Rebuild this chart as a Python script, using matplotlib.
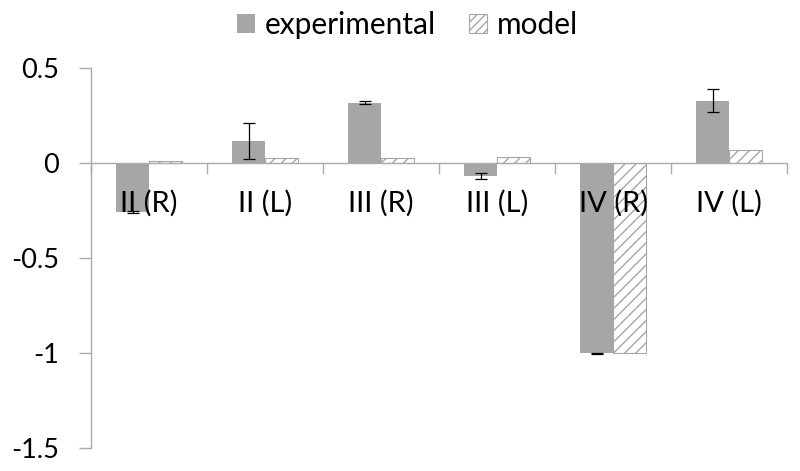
import matplotlib
matplotlib.use("Agg")
import matplotlib.pyplot as plt
import numpy as np
from matplotlib.patches import Patch

plt.rcParams['font.family'] = ['Lato', 'DejaVu Sans']
plt.rcParams['hatch.linewidth'] = 1.0

categories = ["II (R)", "II (L)", "III (R)", "III (L)", "IV (R)", "IV (L)"]
experimental = [-0.26, 0.115, 0.317, -0.069, -1.0, 0.327]
experimental_err = [0.005, 0.095, 0.01, 0.017, 0.003, 0.062]
model = [0.01, 0.028, 0.028, 0.033, -1.0, 0.07]
y_ticks = [0.5, 0, -0.5, -1, -1.5]
y_tick_labels = ["0.5", "0", "-0.5", "-1", "-1.5"]

gray = "#A6A6A6"
axis_gray = "#ABABAB"

fig = plt.figure(figsize=(8, 4.71), dpi=100)
ax = fig.add_axes([0.1138, 0.0482, 0.984 - 0.1138, 0.8081])

x = np.arange(len(categories))
w = 0.285
ax.bar(x - w / 2, experimental, w, color=gray, edgecolor="none", zorder=1)
ax.errorbar(x - w / 2, experimental, yerr=experimental_err, fmt="none",
            ecolor="black", elinewidth=0.9, capsize=4, capthick=0.9, zorder=3)
ax.bar(x + w / 2, model, w, color="white", edgecolor=gray, hatch="///",
       linewidth=0.8, zorder=1)

ax.set_xlim(-0.5, len(categories) - 0.5)
ax.set_ylim(-1.5, 0.5)

for s in ["top", "right", "bottom"]:
    ax.spines[s].set_visible(False)
ax.spines["left"].set_color(axis_gray)
ax.spines["left"].set_linewidth(1.0)
ax.axhline(0, color=axis_gray, linewidth=1.0, zorder=2)

# category boundary ticks on the zero line
for b in np.arange(len(categories) + 1) - 0.5:
    ax.plot([b, b], [0, -0.055], color=axis_gray, linewidth=1.0, zorder=2,
            clip_on=False)

ax.set_yticks(y_ticks)
ax.set_yticklabels(y_tick_labels, fontsize=19.5)
ax.tick_params(axis="y", length=9, width=1.0, color=axis_gray, pad=14)

ax.set_xticks(x)
ax.set_xticklabels([])
for xi, lab in zip(x, categories):
    ax.text(xi, -0.14, lab, ha="center", va="top", fontsize=21, zorder=4)
ax.tick_params(axis="x", length=0)

handles = [Patch(facecolor=gray, edgecolor="none"),
           Patch(facecolor="white", edgecolor=gray, hatch="////", linewidth=0.8)]
fig.legend(handles, ["experimental", "model"], loc="center",
           bbox_to_anchor=(0.509, 0.947), ncol=2, frameon=False, fontsize=21.5,
           handlelength=0.6, handleheight=0.6, handletextpad=0.33,
           columnspacing=1.1, borderpad=0.2)

fig.savefig("out.png", dpi=100)
